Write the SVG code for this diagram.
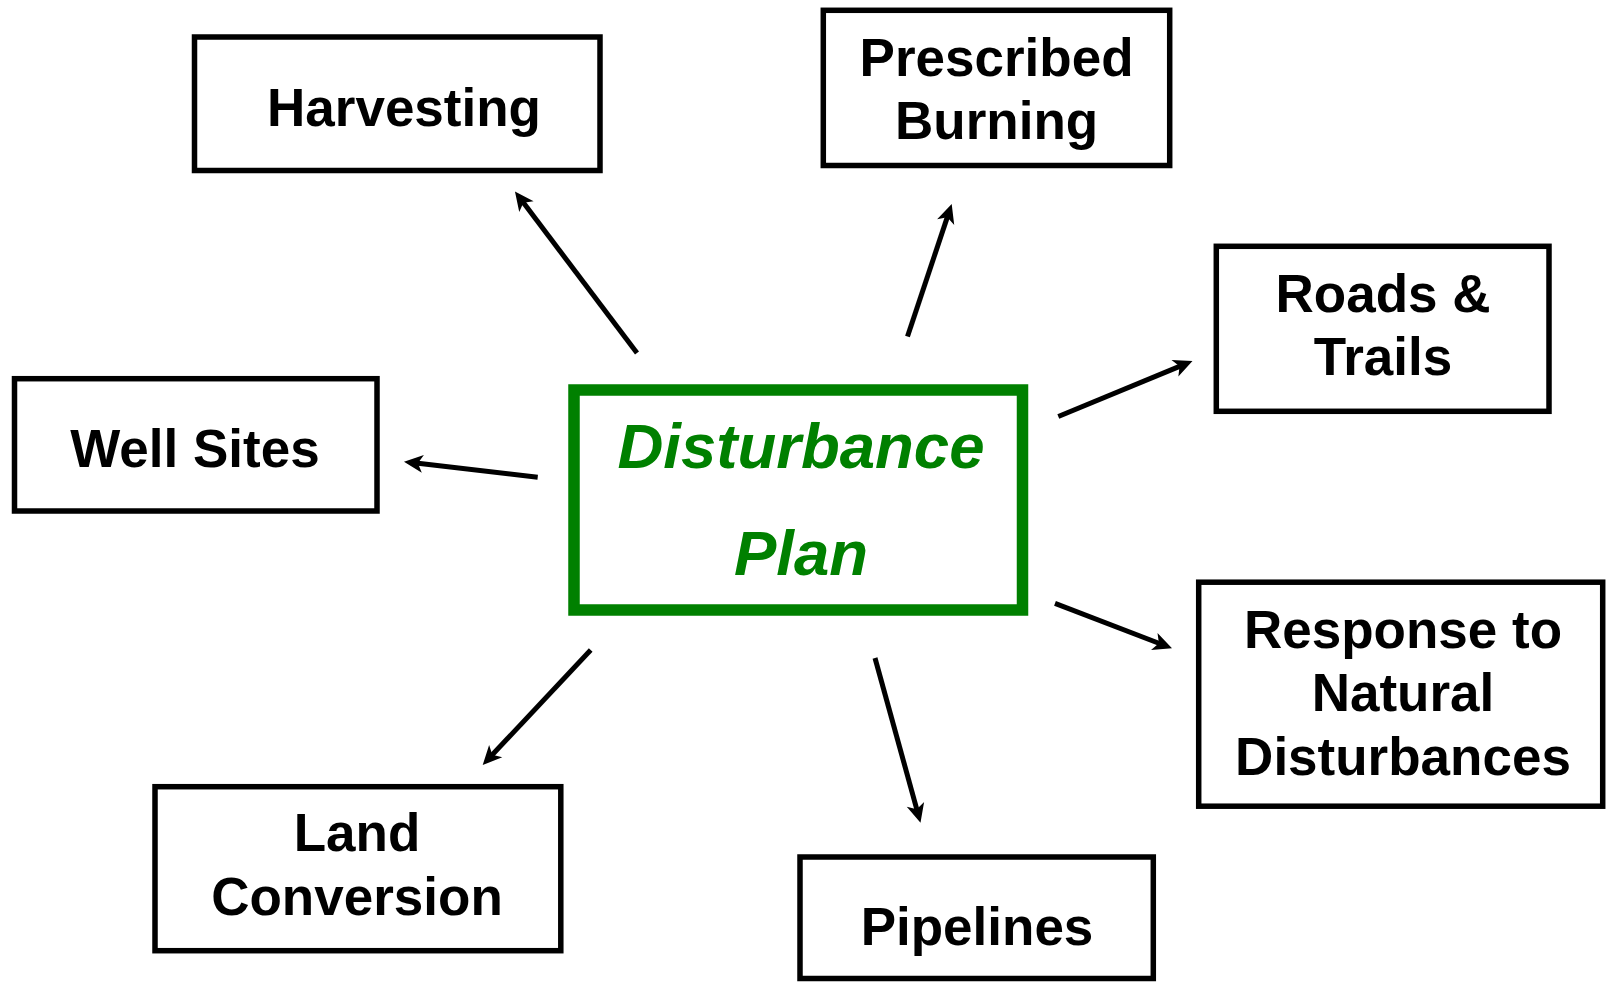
<svg xmlns="http://www.w3.org/2000/svg" width="1606" height="982" viewBox="0 0 1606 982">
<style>
.box{fill:#fff;stroke:#000;stroke-width:5.5}
.main{fill:#fff;stroke:#008000;stroke-width:11.5}
.lbl{font-family:"Liberation Sans",Arial,sans-serif;font-weight:bold;font-size:53px;fill:#000;text-anchor:middle}
.mlbl{font-family:"Liberation Sans",Arial,sans-serif;font-weight:bold;font-style:italic;font-size:63.5px;fill:#008000;text-anchor:middle}
.conn line{stroke:#000;stroke-width:5;marker-end:url(#ah)}
</style>
<defs>
<marker id="ah" markerUnits="userSpaceOnUse" viewBox="-10 -10 24 20" refX="0" refY="0" markerWidth="24" markerHeight="20" orient="auto">
<path d="M12,0 L-7,-9 L-2,0 L-7,9 Z" fill="#000"/>
</marker>
</defs>
<rect width="1606" height="982" fill="#fff"/>
<g id="connectors" class="conn">
<line x1="637" y1="353" x2="522.2" y2="201.1"/>
<line x1="907.5" y1="336.5" x2="947.9" y2="215.4"/>
<line x1="1058.3" y1="416.5" x2="1181.4" y2="365.6"/>
<line x1="537.7" y1="477.3" x2="415.9" y2="463.1"/>
<line x1="590.7" y1="650" x2="490.9" y2="756.3"/>
<line x1="875" y1="658" x2="917.3" y2="811.1"/>
<line x1="1055" y1="603.3" x2="1160.8" y2="644"/>
</g>
<g id="disturbance-plan">
<rect class="main" x="574" y="390" width="448.5" height="220"/>
<text class="mlbl" x="801" y="467.5">Disturbance</text>
<text class="mlbl" x="801" y="575">Plan</text>
</g>
<g id="harvesting">
<rect class="box" x="194.5" y="37" width="405.5" height="133.5"/>
<text class="lbl" x="404" y="126">Harvesting</text>
</g>
<g id="prescribed-burning">
<rect class="box" x="823.3" y="10.3" width="346.4" height="155.2"/>
<text class="lbl" x="996.6" y="76">Prescribed</text>
<text class="lbl" x="996.6" y="138.5">Burning</text>
</g>
<g id="roads-trails">
<rect class="box" x="1216.3" y="246.3" width="332.7" height="165"/>
<text class="lbl" x="1383" y="311.5">Roads &amp;</text>
<text class="lbl" x="1383" y="375">Trails</text>
</g>
<g id="well-sites">
<rect class="box" x="14.5" y="378.7" width="362.5" height="132.3"/>
<text class="lbl" x="195" y="466.5">Well Sites</text>
</g>
<g id="land-conversion">
<rect class="box" x="155" y="786.7" width="405.8" height="164"/>
<text class="lbl" x="357" y="850.5">Land</text>
<text class="lbl" x="357" y="914.5">Conversion</text>
</g>
<g id="pipelines">
<rect class="box" x="800" y="857" width="353.3" height="121.5"/>
<text class="lbl" x="977" y="945">Pipelines</text>
</g>
<g id="response">
<rect class="box" x="1198.7" y="582.2" width="404" height="224"/>
<text class="lbl" x="1403" y="647.5">Response to</text>
<text class="lbl" x="1403" y="711">Natural</text>
<text class="lbl" x="1403" y="774.5">Disturbances</text>
</g>
</svg>
